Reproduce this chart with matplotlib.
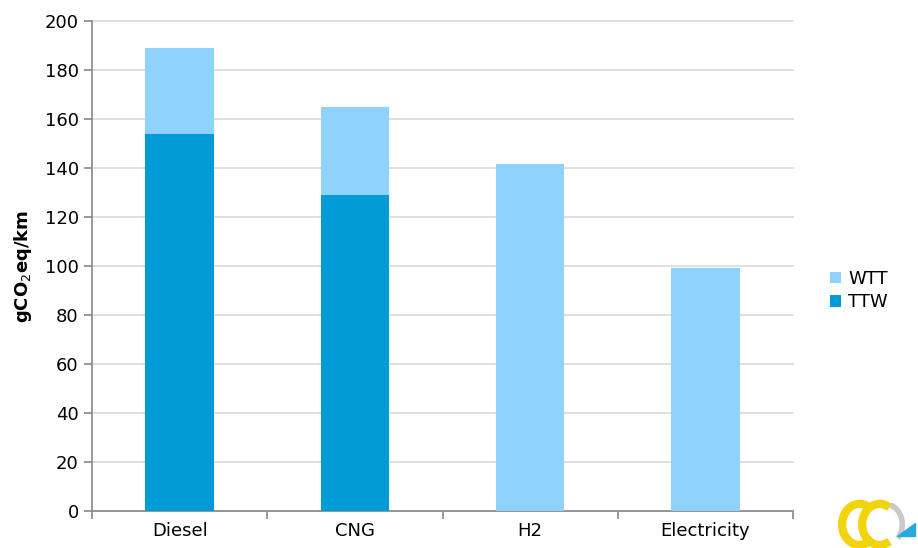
import numpy as np
import matplotlib.pyplot as plt
from matplotlib.patches import Arc, Polygon

categories = ['Diesel', 'CNG', 'H2', 'Electricity']
ttw = [154, 129, 0, 0]
wtt = [35, 36, 141.5, 99]

ttw_color = '#019cd7'
wtt_color = '#8fd2fb'

fig = plt.figure(figsize=(9.18, 5.48), dpi=100)
ax = fig.add_axes([0.1002, 0.0675, 0.7638, 0.8942])

x = np.arange(len(categories))
ax.bar(x, ttw, width=0.39, color=ttw_color, label='TTW', zorder=3)
ax.bar(x, wtt, width=0.39, bottom=ttw, color=wtt_color, label='WTT', zorder=3)

ax.set_xlim(-0.5, len(categories) - 0.5)
ax.set_ylim(0, 200)
ax.set_yticks(range(0, 201, 20))
ax.yaxis.grid(True, color='#d9d9d9', linewidth=1.2, zorder=0)
for gl in ax.get_ygridlines():
    gl.set_clip_on(False)
ax.set_axisbelow(True)

ax.set_xticks(x)
ax.set_xticklabels(categories, fontsize=13)
ax.tick_params(axis='x', length=0, pad=8)
ax.set_xticks(np.arange(-0.5, len(categories), 1), minor=True)
ax.tick_params(axis='x', which='minor', length=6, color='#888888', width=1.2)
ax.tick_params(axis='y', labelsize=13, length=6, color='#888888', width=1.2, direction='out')

for side in ['top', 'right']:
    ax.spines[side].set_visible(False)
for side in ['left', 'bottom']:
    ax.spines[side].set_color('#888888')
    ax.spines[side].set_linewidth(1.2)

ax.set_ylabel('gCO$_2$eq/km', fontsize=13, fontweight='bold', labelpad=8)

handles, labels = ax.get_legend_handles_labels()
ax.legend(handles[::-1], labels[::-1], loc='center left', bbox_to_anchor=(1.03, 0.45),
          frameon=False, fontsize=13, handlelength=0.6, handleheight=0.6,
          handletextpad=0.4, labelspacing=0.3)

# logo
lax = fig.add_axes([0.905, 0.0, 0.095, 0.1])
lax.set_xlim(0, 10)
lax.set_ylim(0, 10)
lax.axis('off')
lax.add_patch(Arc((3.3, 4.3), 4, 7.5, theta1=70, theta2=290, color='#f2d40d', linewidth=6))
lax.add_patch(Arc((5.6, 4.3), 4, 7.5, theta1=70, theta2=290, color='#f2d40d', linewidth=6))
lax.add_patch(Arc((6.2, 4.3), 4, 7.5, theta1=-60, theta2=80, color='#c9c9c9', linewidth=4))
lax.add_patch(Polygon([[7.6, 2.2], [9.6, 2.2], [9.6, 4.6]], color='#29a8e0'))

fig.savefig('out.png', dpi=100)
